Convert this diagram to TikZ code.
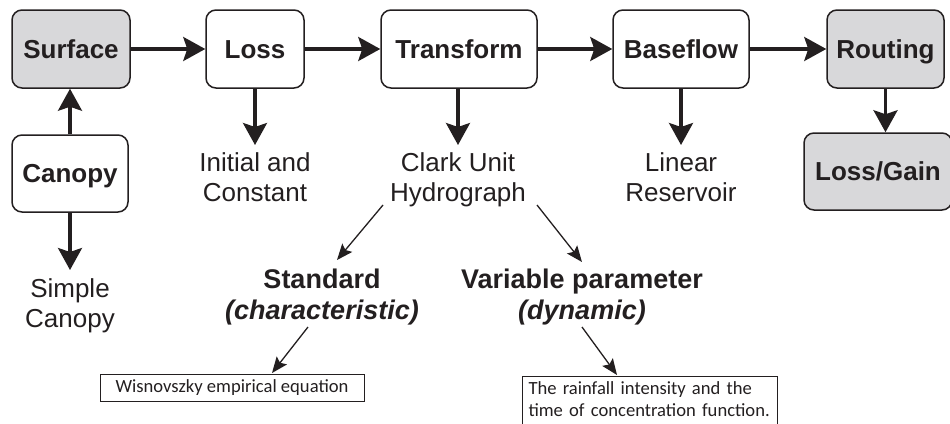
\documentclass[tikz,border=0pt]{standalone}
\usepackage{fontspec}
\setmainfont{Liberation Sans}
\newfontfamily\calib{Carlito}
\usetikzlibrary{arrows.meta}
\definecolor{boxgray}{RGB}{216,216,218}
\definecolor{ink}{RGB}{35,31,32}
\begin{document}
\begin{tikzpicture}[x=1pt,y=-1pt,
  box/.style={draw=ink, line width=1.5pt, rounded corners=10pt, minimum height=78pt,
    inner sep=0pt, text height=18.6pt, text depth=0pt,
    font=\fontsize{26}{30}\selectfont\bfseries, text=ink},
  graybox/.style={box, fill=boxgray},
  lbl/.style={align=center, inner sep=0pt, anchor=north, text=ink,
    font=\fontsize{26}{30}\selectfont},
  blbl/.style={align=center, inner sep=0pt, anchor=north, text=ink,
    font=\fontsize{27}{31}\selectfont\bfseries},
  notebox/.style={draw=ink, line width=1pt, inner sep=0pt, text=ink,
    font=\calib\fontsize{18.6}{22}\selectfont},
  bigarrow/.style={draw=ink, line width=3.2pt, -{Stealth[length=22pt,width=24pt,inset=4pt]}},
  thinarrow/.style={draw=ink, line width=1.3pt, -{Stealth[length=16pt,width=13pt,inset=3pt]}}]
\useasboundingbox (0,0) rectangle (950,423);

% top row boxes
\node[graybox, minimum width=118pt] (surface) at (71,49) {Surface};
\node[box, minimum width=98pt] (loss) at (255,49) {Loss};
\node[box, minimum width=156pt] (transform) at (459,49) {Transform};
\node[box, minimum width=136pt] (baseflow) at (681,49) {Baseflow};
\node[graybox, minimum width=117pt] (routing) at (885.5,49) {Routing};
\node[graybox, minimum width=148pt, minimum height=77pt] (lossgain) at (878,171.5) {Loss/Gain};
\node[box, minimum width=116pt, minimum height=77pt] (canopy) at (70,173.5) {Canopy};

% labels
\node[lbl] (simple) at (70,278) {Simple\\Canopy};
\node[lbl] (initial) at (255,152) {Initial and\\Constant};
\node[lbl] (clark) at (458,152) {Clark Unit\\Hydrograph};
\node[lbl] (linear) at (681,152) {Linear\\Reservoir};
\node[blbl] (standard) at (322,269) {Standard\\\itshape(characteristic)};
\node[blbl] (variable) at (582,269) {Variable parameter\\\itshape(dynamic)};

% note boxes
\node[notebox, minimum width=264pt, minimum height=27pt] (wis) at (232,387.5) {Wisnovszky empirical equation};
\node[notebox, anchor=north west, align=left, inner xsep=6pt, inner ysep=5pt,
  text width=243pt] (rain) at (522,376)
  {The rainfall intensity and the\\time of concentration function.\rule[-8pt]{0pt}{8pt}};

% thick connectors
\draw[bigarrow] (surface.east) -- (loss.west);
\draw[bigarrow] (loss.east) -- (transform.west);
\draw[bigarrow] (transform.east) -- (baseflow.west);
\draw[bigarrow] (baseflow.east) -- (routing.west);
\draw[bigarrow] (canopy.north) -- (canopy.north |- surface.south);
\draw[bigarrow] (canopy.south) -- ([yshift=8pt]simple.north);
\draw[bigarrow] (loss.south) -- ([yshift=7pt]initial.north);
\draw[bigarrow] (transform.south -| clark.north) -- ([yshift=7pt]clark.north);
\draw[bigarrow] (baseflow.south) -- ([yshift=7pt]linear.north);
\draw[bigarrow] (routing.south) -- (routing.south |- lossgain.north);

% thin connectors
\coordinate (c1) at (383,205);
\coordinate (c2) at (337,260);
\coordinate (c3) at (537,205);
\coordinate (c4) at (582,262);
\coordinate (c5) at (308,327);
\coordinate (c6) at (272,373);
\coordinate (c7) at (582,327);
\coordinate (c8) at (617,375);
\draw[thinarrow] (c1) -- (c2);
\draw[thinarrow] (c3) -- (c4);
\draw[thinarrow] (c5) -- (c6);
\draw[thinarrow] (c7) -- (c8);
\end{tikzpicture}
\end{document}
